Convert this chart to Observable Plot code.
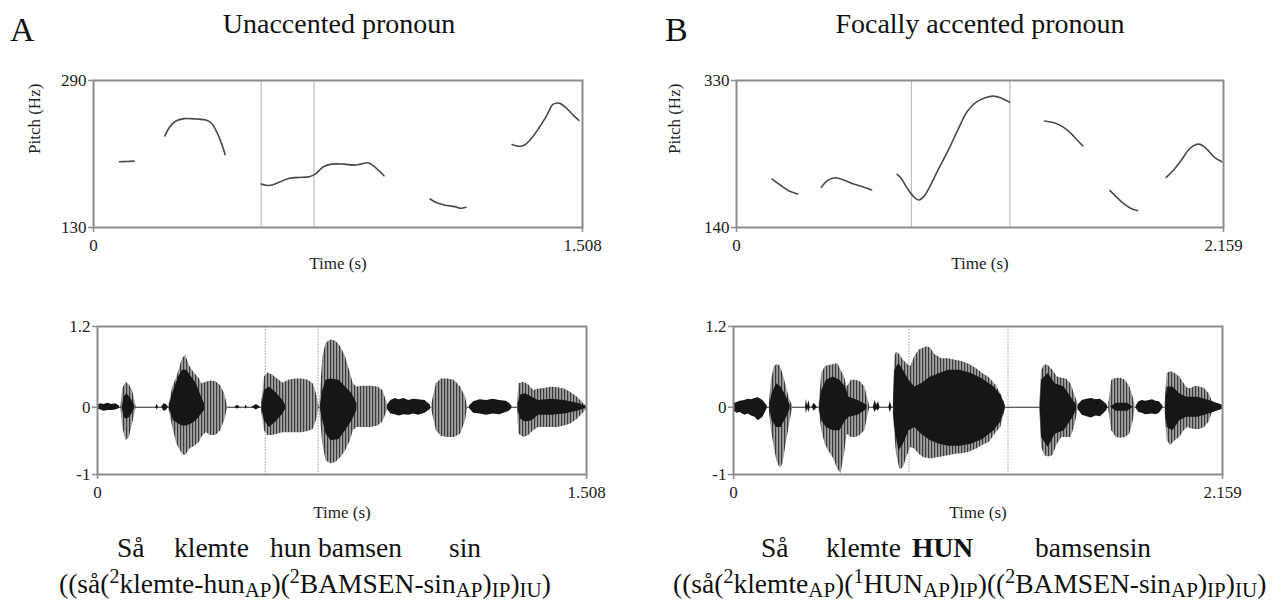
<!DOCTYPE html>
<html>
<head>
<meta charset="utf-8">
<script src="https://cdn.jsdelivr.net/npm/d3@7"></script>
<script src="https://cdn.jsdelivr.net/npm/@observablehq/plot@0.6"></script>
<style>
  html, body { margin: 0; padding: 0; background: #fff; }
  #wrap { position: relative; width: 1282px; height: 613px; overflow: hidden; background: #fff; }
  #wrap > svg { position: absolute; }
</style>
</head>
<body>
<svg width="0" height="0" style="position:absolute">
  <defs>
    <pattern id="stripes" patternUnits="userSpaceOnUse" width="3" height="8">
      <rect width="3" height="8" fill="#a0a0a0"/>
      <rect width="1.2" height="8" fill="#3a3a3a"/>
    </pattern>
  </defs>
</svg>
<div id="wrap">
  <svg id="txt" width="1282" height="613" style="left:0;top:0;pointer-events:none" font-family="'Liberation Serif','Times New Roman',serif" fill="#111">
    <text x="10" y="41" font-size="34">A</text>
    <text x="339" y="33" font-size="28" text-anchor="middle">Unaccented pronoun</text>
    <text x="665" y="41" font-size="34">B</text>
    <text x="980" y="33" font-size="28" text-anchor="middle">Focally accented pronoun</text>

    <text y="557" font-size="27.5"><tspan x="117">Så</tspan><tspan x="174">klemte</tspan><tspan x="270">hun</tspan><tspan x="318">bamsen</tspan><tspan x="449">sin</tspan></text>
    <text y="557" font-size="27.5"><tspan x="761">Så</tspan><tspan x="826">klemte</tspan><tspan x="912" font-weight="bold">HUN</tspan><tspan x="1035">bamsensin</tspan></text>

    <text x="59" y="593" font-size="27.5">((så(<tspan dy="-10" font-size="20">2</tspan><tspan dy="10">klemte-hun</tspan><tspan dy="4" font-size="21">AP</tspan><tspan dy="-4">)(</tspan><tspan dy="-10" font-size="20">2</tspan><tspan dy="10">BAMSEN-sin</tspan><tspan dy="4" font-size="21">AP</tspan><tspan dy="-4">)</tspan><tspan dy="4" font-size="21">IP</tspan><tspan dy="-4">)</tspan><tspan dy="4" font-size="21">IU</tspan><tspan dy="-4">)</tspan></text>
    <text x="673" y="593" font-size="27.5">((så(<tspan dy="-10" font-size="20">2</tspan><tspan dy="10">klemte</tspan><tspan dy="4" font-size="21">AP</tspan><tspan dy="-4">)(</tspan><tspan dy="-10" font-size="20">1</tspan><tspan dy="10">HUN</tspan><tspan dy="4" font-size="21">AP</tspan><tspan dy="-4">)</tspan><tspan dy="4" font-size="21">IP</tspan><tspan dy="-4">)((</tspan><tspan dy="-10" font-size="20">2</tspan><tspan dy="10">BAMSEN-sin</tspan><tspan dy="4" font-size="21">AP</tspan><tspan dy="-4">)</tspan><tspan dy="4" font-size="21">IP</tspan><tspan dy="-4">)</tspan><tspan dy="4" font-size="21">IU</tspan><tspan dy="-4">)</tspan></text>
  </svg>
</div>
<script>
// ---------------- DATA ----------------
const durationA = 1.508;
const durationB = 2.159;
const pitchDomainA = [130, 290];
const pitchDomainB = [140, 330];
const waveDomain = [-1, 1.2];
const waveTicks = [-1, 0, 1.2];
const boundariesA = [0.517, 0.680];
const boundariesB = [0.775, 1.212];

// pitch tracks: segments of [time (s), pitch (Hz)]
const pitchA = [
  [[0.080,201.5],[0.102,201.8],[0.125,202.2]],
  [[0.220,229.7],[0.235,239.4],[0.254,245.9],[0.279,248.5],[0.317,248.1],[0.349,246.7],[0.365,243.0],[0.380,234.0],[0.393,223.2],[0.406,209.5]],
  [[0.517,177.3],[0.532,175.9],[0.551,176.2],[0.576,179.8],[0.602,183.4],[0.633,184.5],[0.665,185.3],[0.684,188.1],[0.709,196.1],[0.734,199.0],[0.772,199.0],[0.804,197.9],[0.823,199.0],[0.846,200.4],[0.867,196.1],[0.896,186.3]],
  [[1.038,161.0],[1.057,157.1],[1.082,154.5],[1.114,152.7],[1.133,150.9],[1.149,152.0]],
  [[1.291,220.3],[1.310,218.5],[1.328,219.6],[1.354,228.6],[1.379,241.2],[1.398,252.1],[1.417,264.0],[1.436,265.4],[1.455,261.1],[1.480,252.1],[1.497,246.7]]
];
const pitchB = [
  [[0.158,202.6],[0.194,194.9],[0.231,187.6],[0.271,183.3]],
  [[0.376,191.9],[0.403,200.5],[0.439,204.3],[0.476,201.3],[0.512,197.0],[0.558,192.8],[0.599,188.5]],
  [[0.712,208.6],[0.730,203.5],[0.757,190.6],[0.785,179.9],[0.808,175.6],[0.830,179.9],[0.857,192.8],[0.893,214.2],[0.939,239.9],[0.984,267.8],[1.021,289.3],[1.057,300.8],[1.102,307.7],[1.139,309.8],[1.171,307.7],[1.211,301.7]],
  [[1.366,277.7],[1.411,275.1],[1.447,270.0],[1.484,261.4],[1.511,252.8],[1.535,245.5]],
  [[1.656,187.6],[1.683,179.9],[1.711,172.2],[1.747,164.9],[1.778,161.9]],
  [[1.905,204.8],[1.938,214.2],[1.974,227.9],[2.010,242.1],[2.050,247.7],[2.083,242.1],[2.119,230.5],[2.152,224.9]]
];

// waveform envelopes: bursts of [time (s), upper amplitude, lower amplitude]
const waveNoiseA = [
  [[0,0.03,-0.03],[0.01,0.05,-0.04],[0.02,0.04,-0.06],[0.032,0.06,-0.05],[0.045,0.04,-0.05],[0.056,0.05,-0.04],[0.068,0.02,-0.02]],
  [[0.180,0,0],[0.184,0.04,-0.04],[0.188,0,0]],
  [[0.198,0,0],[0.205,0.05,-0.06],[0.212,0.04,-0.05],[0.219,0,0]],
  [[0.424,0,0],[0.432,0.03,-0.03],[0.440,0,0]],
  [[0.455,0,0],[0.458,0.03,-0.03],[0.462,0,0]],
  [[0.476,0,0],[0.490,0.04,-0.04],[0.503,0,0]],
  [[0.894,0.03,-0.03],[0.905,0.10,-0.10],[0.918,0.13,-0.11],[0.930,0.11,-0.13],[0.945,0.13,-0.11],[0.960,0.10,-0.12],[0.975,0.12,-0.10],[0.990,0.11,-0.12],[1.010,0.10,-0.09],[1.027,0.03,-0.03]],
  [[1.147,0.02,-0.02],[1.160,0.08,-0.09],[1.180,0.11,-0.10],[1.200,0.10,-0.12],[1.220,0.12,-0.10],[1.240,0.10,-0.11],[1.260,0.09,-0.08],[1.270,0.06,-0.06],[1.278,0.02,-0.02]]
];
const waveOuterA = [
  [[0.072,0,0],[0.078,0.28,-0.30],[0.088,0.37,-0.50],[0.098,0.33,-0.45],[0.108,0.25,-0.25],[0.119,0.01,-0.01]],
  [[0.221,0.05,-0.05],[0.232,0.30,-0.30],[0.245,0.45,-0.55],[0.262,0.72,-0.70],[0.272,0.77,-0.72],[0.285,0.60,-0.62],[0.300,0.50,-0.58],[0.315,0.42,-0.52],[0.321,0.35,-0.45],[0.335,0.37,-0.38],[0.350,0.39,-0.42],[0.365,0.38,-0.42],[0.380,0.32,-0.35],[0.392,0.20,-0.20],[0.401,0.02,-0.02]],
  [[0.506,0.05,-0.05],[0.515,0.45,-0.35],[0.525,0.51,-0.42],[0.540,0.48,-0.42],[0.555,0.42,-0.40],[0.572,0.36,-0.38],[0.590,0.40,-0.38],[0.610,0.42,-0.38],[0.630,0.42,-0.38],[0.650,0.40,-0.36],[0.665,0.35,-0.33],[0.675,0.20,-0.20],[0.683,0.03,-0.03]],
  [[0.686,0.10,-0.10],[0.695,0.75,-0.55],[0.705,0.95,-0.80],[0.720,1.00,-0.84],[0.735,0.98,-0.82],[0.750,0.90,-0.75],[0.765,0.75,-0.65],[0.780,0.50,-0.50],[0.789,0.35,-0.35],[0.800,0.30,-0.30],[0.820,0.31,-0.30],[0.845,0.31,-0.30],[0.865,0.30,-0.28],[0.880,0.25,-0.22],[0.894,0.05,-0.05]],
  [[1.031,0.05,-0.05],[1.045,0.35,-0.35],[1.060,0.42,-0.43],[1.080,0.42,-0.45],[1.100,0.40,-0.45],[1.120,0.30,-0.40],[1.135,0.15,-0.20],[1.141,0.02,-0.02]],
  [[1.295,0.05,-0.05],[1.300,0.35,-0.40],[1.315,0.37,-0.45],[1.330,0.33,-0.42],[1.345,0.25,-0.35],[1.360,0.27,-0.30],[1.380,0.28,-0.30],[1.400,0.30,-0.30],[1.420,0.29,-0.30],[1.440,0.27,-0.28],[1.460,0.22,-0.25],[1.480,0.15,-0.18],[1.500,0.05,-0.08],[1.508,0.02,-0.03]]
];
const waveCoreA = [
  [[0.076,0,0],[0.082,0.15,-0.15],[0.090,0.20,-0.18],[0.100,0.15,-0.15],[0.112,0.05,-0.05],[0.116,0,0]],
  [[0.222,0.03,-0.03],[0.235,0.25,-0.20],[0.250,0.45,-0.25],[0.262,0.55,-0.28],[0.275,0.55,-0.28],[0.290,0.45,-0.25],[0.305,0.35,-0.20],[0.321,0.15,-0.10],[0.330,0.05,-0.05]],
  [[0.508,0.05,-0.05],[0.515,0.25,-0.20],[0.530,0.30,-0.30],[0.550,0.22,-0.22],[0.572,0.10,-0.10],[0.580,0.03,-0.03]],
  [[0.688,0.05,-0.05],[0.695,0.25,-0.20],[0.705,0.40,-0.40],[0.720,0.42,-0.50],[0.745,0.40,-0.48],[0.765,0.30,-0.35],[0.785,0.20,-0.20],[0.800,0.05,-0.05]],
  [[1.297,0.05,-0.05],[1.305,0.18,-0.18],[1.320,0.20,-0.22],[1.340,0.15,-0.20],[1.360,0.10,-0.12],[1.400,0.12,-0.12],[1.440,0.10,-0.10],[1.480,0.06,-0.06],[1.505,0.02,-0.02]]
];

const waveNoiseB = [
  [[0,0.05,-0.05],[0.015,0.07,-0.09],[0.03,0.09,-0.08],[0.05,0.10,-0.12],[0.065,0.12,-0.10],[0.08,0.11,-0.13],[0.095,0.13,-0.15],[0.11,0.14,-0.20],[0.13,0.10,-0.15],[0.149,0.02,-0.02]],
  [[0.318,0,0],[0.322,0.12,-0.10],[0.327,0.02,-0.02],[0.333,0.10,-0.08],[0.339,0,0]],
  [[0.346,0,0],[0.357,0.06,-0.06],[0.370,0,0]],
  [[0.617,0,0],[0.625,0.10,-0.08],[0.632,0.03,-0.03],[0.640,0.08,-0.06],[0.647,0,0]],
  [[0.686,0,0],[0.692,0.08,-0.08],[0.700,0,0]],
  [[1.521,0.03,-0.03],[1.540,0.10,-0.12],[1.560,0.12,-0.14],[1.580,0.13,-0.16],[1.600,0.11,-0.13],[1.620,0.12,-0.14],[1.645,0.05,-0.06],[1.652,0.02,-0.02]],
  [[1.778,0.02,-0.02],[1.790,0.08,-0.08],[1.805,0.10,-0.09],[1.820,0.09,-0.11],[1.850,0.11,-0.10],[1.865,0.09,-0.11],[1.880,0.08,-0.09],[1.896,0.02,-0.02]]
];
const waveOuterB = [
  [[0.158,0.05,-0.05],[0.168,0.40,-0.35],[0.180,0.60,-0.60],[0.192,0.63,-0.80],[0.205,0.62,-0.90],[0.218,0.50,-0.85],[0.230,0.35,-0.60],[0.245,0.15,-0.30],[0.261,0.02,-0.02]],
  [[0.378,0.05,-0.05],[0.390,0.50,-0.35],[0.405,0.60,-0.55],[0.420,0.62,-0.65],[0.440,0.63,-0.75],[0.460,0.65,-0.92],[0.475,0.55,-0.99],[0.490,0.45,-0.70],[0.502,0.30,-0.40],[0.520,0.40,-0.45],[0.540,0.40,-0.45],[0.560,0.38,-0.42],[0.580,0.30,-0.35],[0.595,0.10,-0.10],[0.601,0.02,-0.02]],
  [[0.706,0.10,-0.10],[0.712,0.75,-0.40],[0.720,0.82,-0.70],[0.735,0.78,-0.93],[0.750,0.70,-0.90],[0.765,0.65,-0.75],[0.782,0.60,-0.60],[0.800,0.75,-0.62],[0.820,0.85,-0.70],[0.840,0.88,-0.75],[0.855,0.90,-0.76],[0.870,0.88,-0.77],[0.890,0.78,-0.76],[0.920,0.72,-0.74],[0.950,0.72,-0.72],[0.980,0.70,-0.70],[1.010,0.68,-0.69],[1.040,0.64,-0.67],[1.070,0.58,-0.63],[1.100,0.50,-0.57],[1.130,0.44,-0.52],[1.160,0.32,-0.38],[1.180,0.20,-0.30],[1.195,0.08,-0.10],[1.202,0.01,-0.01]],
  [[1.353,0.05,-0.05],[1.360,0.55,-0.60],[1.375,0.63,-0.72],[1.390,0.62,-0.74],[1.410,0.55,-0.72],[1.430,0.45,-0.55],[1.450,0.43,-0.45],[1.470,0.42,-0.45],[1.490,0.35,-0.45],[1.505,0.20,-0.30],[1.521,0.05,-0.05]],
  [[1.657,0.05,-0.05],[1.670,0.40,-0.35],[1.690,0.43,-0.45],[1.710,0.43,-0.46],[1.730,0.40,-0.45],[1.750,0.30,-0.40],[1.765,0.15,-0.20],[1.773,0.02,-0.02]],
  [[1.905,0.05,-0.05],[1.915,0.50,-0.50],[1.930,0.53,-0.57],[1.950,0.50,-0.50],[1.970,0.45,-0.45],[1.990,0.35,-0.35],[2.005,0.28,-0.30],[2.020,0.28,-0.32],[2.040,0.31,-0.33],[2.060,0.30,-0.33],[2.080,0.28,-0.30],[2.100,0.20,-0.22],[2.115,0.08,-0.08],[2.125,0.05,-0.05],[2.140,0.05,-0.05],[2.159,0.03,-0.03]]
];
const waveCoreB = [
  [[0.162,0.05,-0.05],[0.170,0.20,-0.20],[0.190,0.35,-0.30],[0.210,0.30,-0.30],[0.235,0.15,-0.15],[0.250,0.03,-0.03]],
  [[0.380,0.05,-0.05],[0.390,0.25,-0.20],[0.410,0.40,-0.30],[0.440,0.45,-0.35],[0.470,0.40,-0.35],[0.495,0.30,-0.20],[0.510,0.15,-0.15],[0.550,0.10,-0.12],[0.590,0.03,-0.03]],
  [[0.707,0.10,-0.10],[0.712,0.55,-0.30],[0.730,0.65,-0.65],[0.750,0.55,-0.55],[0.775,0.40,-0.35],[0.800,0.30,-0.30],[0.830,0.35,-0.40],[0.870,0.45,-0.50],[0.910,0.50,-0.55],[0.950,0.55,-0.58],[1.000,0.55,-0.58],[1.050,0.50,-0.55],[1.100,0.42,-0.48],[1.150,0.30,-0.35],[1.180,0.18,-0.22],[1.200,0.02,-0.02]],
  [[1.355,0.05,-0.05],[1.360,0.40,-0.45],[1.390,0.50,-0.60],[1.420,0.35,-0.40],[1.460,0.30,-0.35],[1.500,0.10,-0.15],[1.515,0.03,-0.03]],
  [[1.665,0,0],[1.690,0.06,-0.06],[1.740,0.06,-0.06],[1.765,0,0]],
  [[1.908,0.05,-0.05],[1.915,0.30,-0.30],[1.940,0.30,-0.35],[1.970,0.20,-0.20],[2.000,0.15,-0.15],[2.050,0.15,-0.15],[2.100,0.10,-0.10],[2.159,0.03,-0.03]]
];

// ---------------- DRAWING ----------------
const FONT = "'Liberation Serif','Times New Roman',serif";
const FRAME = "#8c8c8c";

function pitchRows(segs) {
  return segs.flatMap((s, i) => s.map(([t, hz]) => ({seg: i, t, hz})));
}
function envRows(bursts) {
  return bursts.flatMap((b, i) => b.map(([t, hi, lo]) => ({burst: i, t, hi, lo})));
}

function pitchPlot({dur, domain, bounds, segs, width, marginLeft, marginRight, labelDx}) {
  return Plot.plot({
    width, height: 217, marginTop: 20, marginBottom: 50, marginLeft, marginRight,
    x: {domain: [0, dur]},
    y: {domain},
    style: {fontFamily: FONT, fontSize: "17px", color: "#222", background: "transparent", overflow: "visible"},
    marks: [
      Plot.ruleX(bounds, {stroke: "#b3b3b3", strokeWidth: 1}),
      Plot.line(pitchRows(segs), {x: "t", y: "hz", z: "seg", stroke: "#4a4a4a", strokeWidth: 1.6, curve: "catmull-rom"}),
      Plot.frame({stroke: FRAME, strokeWidth: 2}),
      Plot.axisX([0, dur], {tickSize: 5, tickPadding: 6, stroke: FRAME, strokeWidth: 1.5, tickFormat: d => String(d), label: null}),
      Plot.axisY(domain, {tickSize: 5, tickPadding: 2, stroke: FRAME, strokeWidth: 1.5, tickFormat: d => String(d), label: null}),
      Plot.text(["Time (s)"], {frameAnchor: "bottom", dy: 41, lineAnchor: "bottom", fontSize: 17, text: d => d, fill: "#222"}),
      Plot.text(["Pitch (Hz)"], {frameAnchor: "left", dx: labelDx, rotate: -90, fontSize: 17, text: d => d, fill: "#222"})
    ]
  });
}

function wavePlot({dur, bounds, noise, outer, core, width, marginLeft, marginRight}) {
  return Plot.plot({
    width, height: 224, marginTop: 26, marginBottom: 50, marginLeft, marginRight,
    x: {domain: [0, dur]},
    y: {domain: waveDomain},
    style: {fontFamily: FONT, fontSize: "17px", color: "#222", background: "transparent", overflow: "visible"},
    marks: [
      Plot.ruleX(bounds, {stroke: "#b3b3b3", strokeWidth: 1, strokeDasharray: "2,1"}),
      Plot.ruleY([0], {stroke: "#2a2a2a", strokeWidth: 1.2}),
      Plot.areaY(envRows(outer), {x: "t", y1: "lo", y2: "hi", z: "burst", fill: "url(#stripes)"}),
      Plot.areaY(envRows(core), {x: "t", y1: "lo", y2: "hi", z: "burst", fill: "#161616"}),
      Plot.areaY(envRows(noise), {x: "t", y1: "lo", y2: "hi", z: "burst", fill: "#161616"}),
      Plot.frame({stroke: FRAME, strokeWidth: 2}),
      Plot.axisX([0, dur], {tickSize: 5, tickPadding: 6, stroke: FRAME, strokeWidth: 1.5, tickFormat: d => String(d), label: null}),
      Plot.axisY(waveTicks, {tickSize: 5, tickPadding: 2, stroke: FRAME, strokeWidth: 1.5, tickFormat: d => String(d), label: null}),
      Plot.text(["Time (s)"], {frameAnchor: "bottom", dy: 43, lineAnchor: "bottom", fontSize: 17, text: d => d, fill: "#222"})
    ]
  });
}

const wrap = document.getElementById("wrap");
function place(el, left, top) {
  el.style.position = "absolute";
  el.style.left = left + "px";
  el.style.top = top + "px";
  wrap.insertBefore(el, document.getElementById("txt"));
}

place(pitchPlot({dur: durationA, domain: pitchDomainA, bounds: boundariesA, segs: pitchA, width: 640, marginLeft: 93, marginRight: 58, labelDx: -59}), 0, 60);
place(pitchPlot({dur: durationB, domain: pitchDomainB, bounds: boundariesB, segs: pitchB, width: 642, marginLeft: 96, marginRight: 59, labelDx: -62}), 640, 60);
place(wavePlot({dur: durationA, bounds: boundariesA, noise: waveNoiseA, outer: waveOuterA, core: waveCoreA, width: 640, marginLeft: 97, marginRight: 54}), 0, 300);
place(wavePlot({dur: durationB, bounds: boundariesB, noise: waveNoiseB, outer: waveOuterB, core: waveCoreB, width: 642, marginLeft: 93, marginRight: 60}), 640, 300);
</script>
</body>
</html>
